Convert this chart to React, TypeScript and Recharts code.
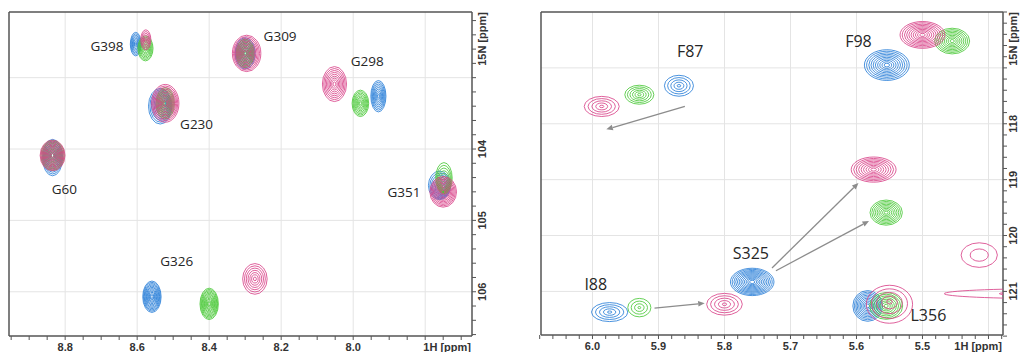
import React from 'react';
import { ScatterChart, Scatter, XAxis, YAxis, ReferenceLine } from 'recharts';

// ---------- data (ppm) ----------
type Peak = { x: number; y: number; w: number; h: number; n: number; ox?: number; oy?: number };
type Lbl = { x: number; y: number; label: string };
type Seg = { x1: number; y1: number; x2: number; y2: number };

// Left panel: glycine region
const leftBlue: Peak[] = [
  { x: 8.604, y: 102.53, w: 0.030, h: 0.33, n: 8 },
  { x: 8.300, y: 102.66, w: 0.056, h: 0.44, n: 11 },
  { x: 8.524, y: 103.36, w: 0.065, h: 0.50, n: 11, ox: 0.012, oy: 0.04 },
  { x: 7.930, y: 103.26, w: 0.042, h: 0.44, n: 9 },
  { x: 8.835, y: 104.09, w: 0.056, h: 0.51, n: 11, oy: 0.03 },
  { x: 7.752, y: 104.59, w: 0.062, h: 0.40, n: 10, ox: 0.008, oy: -0.08 },
  { x: 8.559, y: 106.07, w: 0.051, h: 0.44, n: 12 },
];
const leftGreen: Peak[] = [
  { x: 8.577, y: 102.59, w: 0.042, h: 0.35, n: 9 },
  { x: 8.300, y: 102.66, w: 0.050, h: 0.40, n: 10 },
  { x: 8.522, y: 103.36, w: 0.051, h: 0.44, n: 10 },
  { x: 7.980, y: 103.36, w: 0.046, h: 0.37, n: 9 },
  { x: 8.835, y: 104.09, w: 0.065, h: 0.42, n: 10 },
  { x: 7.748, y: 104.58, w: 0.046, h: 0.44, n: 10, oy: -0.17 },
  { x: 8.400, y: 106.17, w: 0.051, h: 0.44, n: 12 },
];
const leftPink: Peak[] = [
  { x: 8.576, y: 102.47, w: 0.028, h: 0.28, n: 6 },
  { x: 8.300, y: 102.66, w: 0.079, h: 0.51, n: 12, ox: -0.004 },
  { x: 8.522, y: 103.36, w: 0.076, h: 0.53, n: 12 },
  { x: 8.052, y: 103.09, w: 0.067, h: 0.49, n: 9 },
  { x: 8.835, y: 104.09, w: 0.069, h: 0.43, n: 12 },
  { x: 7.750, y: 104.60, w: 0.074, h: 0.43, n: 11 },
  { x: 8.273, y: 105.82, w: 0.068, h: 0.43, n: 7 },
];
const leftLabels: Lbl[] = [
  { x: 8.684, y: 102.55, label: 'G398' },
  { x: 8.203, y: 102.41, label: 'G309' },
  { x: 7.961, y: 102.76, label: 'G298' },
  { x: 8.435, y: 103.65, label: 'G230' },
  { x: 8.802, y: 104.56, label: 'G60' },
  { x: 7.859, y: 104.60, label: 'G351' },
  { x: 8.490, y: 105.57, label: 'G326' },
];

// Right panel
const rightBlue: Peak[] = [
  { x: 5.869, y: 117.32, w: 0.044, h: 0.375, n: 5 },
  { x: 5.554, y: 116.95, w: 0.068, h: 0.55, n: 10 },
  { x: 5.758, y: 120.83, w: 0.066, h: 0.49, n: 12 },
  { x: 5.974, y: 121.37, w: 0.055, h: 0.34, n: 5 },
  { x: 5.583, y: 121.26, w: 0.045, h: 0.55, n: 10 },
];
const rightGreen: Peak[] = [
  { x: 5.929, y: 117.48, w: 0.044, h: 0.34, n: 6 },
  { x: 5.455, y: 116.52, w: 0.053, h: 0.46, n: 9 },
  { x: 5.555, y: 119.59, w: 0.049, h: 0.45, n: 9 },
  { x: 5.929, y: 121.29, w: 0.035, h: 0.33, n: 4 },
  { x: 5.555, y: 121.26, w: 0.050, h: 0.48, n: 8 },
];
const rightPink: Peak[] = [
  { x: 5.986, y: 117.69, w: 0.053, h: 0.36, n: 5 },
  { x: 5.500, y: 116.41, w: 0.068, h: 0.48, n: 10 },
  { x: 5.574, y: 118.82, w: 0.068, h: 0.45, n: 9 },
  { x: 5.800, y: 121.23, w: 0.054, h: 0.39, n: 5 },
  { x: 5.550, y: 121.18, w: 0.070, h: 0.68, n: 5, oy: 0.05 },
  { x: 5.414, y: 120.35, w: 0.055, h: 0.44, n: 2 },
  { x: 5.300, y: 121.04, w: 0.334, h: 0.18, n: 2 },
];
const rightLabels: Lbl[] = [
  { x: 5.852, y: 116.69, label: 'F87' },
  { x: 5.597, y: 116.52, label: 'F98' },
  { x: 5.760, y: 120.31, label: 'S325' },
  { x: 5.995, y: 120.87, label: 'I88' },
  { x: 5.491, y: 121.42, label: 'L356' },
];
const rightArrows: Seg[] = [
  { x1: 5.860, y1: 117.69, x2: 5.979, y2: 118.10 },
  { x1: 5.906, y1: 121.30, x2: 5.830, y2: 121.21 },
  { x1: 5.728, y1: 120.58, x2: 5.597, y2: 119.06 },
  { x1: 5.722, y1: 120.63, x2: 5.581, y2: 119.74 },
];

// axes
const leftXDomain: [number, number] = [7.67, 8.956];
const leftYDomain: [number, number] = [102.08, 106.62];
const leftXMajor = [8.8, 8.6, 8.4, 8.2, 8.0];
const leftXGrid = [8.8, 8.6, 8.4, 8.2, 8.0, 7.8];
const leftYMajor = [104, 105, 106];
const leftYGrid = [103, 104, 105, 106];

const rightXDomain: [number, number] = [5.378, 6.078];
const rightYDomain: [number, number] = [116.0, 121.78];
const rightXMajor = [6.0, 5.9, 5.8, 5.7, 5.6, 5.5];
const rightXGrid = [6.0, 5.9, 5.8, 5.7, 5.6, 5.5, 5.4];
const rightYMajor = [118, 119, 120, 121];
const rightYGrid = [117, 118, 119, 120, 121];

// ---------- style ----------
const BLUE = '#2b7fd8';
const GREEN = '#4cc93a';
const PINK = '#d9448a';
const AXIS = '#555';
const TXT = '#333';
const LBLTXT = '#262626';
const GRID = '#e4e4e4';
const TICKFONT = 'Liberation Sans, Arial, sans-serif';
const LBLFONT = 'Open Sans, sans-serif';
const H = 352;

const steps = (a: number, b: number, s: number) => {
  const out: number[] = [];
  const n = Math.round((b - a) / s);
  for (let i = 0; i <= n; i++) out.push(Math.round((a + i * s) * 1000) / 1000);
  return out;
};

const near = (arr: number[], v: number) => arr.some((a) => Math.abs(a - v) < 1e-6);

const contour = (color: string, kx: number, ky: number) => (p: any) => {
  const d: Peak = p.payload;
  const n = d.n;
  const minS = n <= 3 ? 0.5 : 0.12;
  const rings = [];
  for (let i = 0; i < n; i++) {
    const s = n === 1 ? 1 : 1 - (i * (1 - minS)) / (n - 1);
    const cx = p.cx - (d.ox ?? 0) * kx * s;
    const cy = p.cy + (d.oy ?? 0) * ky * s;
    rings.push(
      <ellipse key={i} cx={cx} cy={cy} rx={(d.w / 2) * kx * s} ry={(d.h / 2) * ky * s}
        fill="none" stroke={color} strokeWidth={0.85} />
    );
  }
  return <g>{rings}</g>;
};

const textShape = (size: number) => (p: any) => (
  <text x={p.cx} y={p.cy} textAnchor="middle" dominantBaseline="central"
    fontFamily={LBLFONT} fontSize={size} fill={LBLTXT}>{p.payload.label}</text>
);

const Arrow = (p: any) => {
  const { x1, y1, x2, y2 } = p;
  const a = Math.atan2(y2 - y1, x2 - x1);
  const L = 6.5, W = 2.8;
  const bx = x2 - L * Math.cos(a);
  const by = y2 - L * Math.sin(a);
  const pts = `${x2},${y2} ${bx - W * Math.sin(a)},${by + W * Math.cos(a)} ${bx + W * Math.sin(a)},${by - W * Math.cos(a)}`;
  return (
    <g>
      <line x1={x1} y1={y1} x2={bx} y2={by} stroke="#8c8c8c" strokeWidth={1.3} />
      <polygon points={pts} fill="#8c8c8c" />
    </g>
  );
};

const xTick = (major: number[]) => (p: any) => {
  const v = p.payload.value;
  if (!near(major, v)) return <g />;
  return (
    <text x={p.x} y={p.y} dy={8.5} textAnchor="middle" fontFamily={TICKFONT}
      fontWeight="bold" fontSize={11} fill={TXT}>{v.toFixed(1)}</text>
  );
};

const yTick = (major: number[]) => (p: any) => {
  const v = p.payload.value;
  if (!near(major, v)) return <g />;
  const x = p.x + 4;
  return (
    <text x={x} y={p.y} transform={`rotate(-90, ${x}, ${p.y})`} textAnchor="middle"
      dominantBaseline="central" fontFamily={TICKFONT} fontWeight="bold" fontSize={11} fill={TXT}>{v}</text>
  );
};

const xTitle = (p: any) => {
  const vb = p.viewBox;
  return (
    <text x={vb.x + vb.width - 1} y={vb.y + 14.7} textAnchor="end" fontFamily={TICKFONT}
      fontWeight="bold" fontSize={11} fill={TXT}>1H [ppm]</text>
  );
};

const yTitle = (p: any) => {
  const vb = p.viewBox;
  const x = vb.x + 10;
  const y = vb.y;
  return (
    <text x={x} y={y} transform={`rotate(-90, ${x}, ${y})`} textAnchor="end" dominantBaseline="central"
      fontFamily={TICKFONT} fontWeight="bold" fontSize={11} fill={TXT}>15N [ppm]</text>
  );
};

type PanelProps = {
  width: number;
  margin: { top: number; right: number; left: number; bottom: number };
  yAxisWidth: number;
  xAxisHeight: number;
  xDomain: [number, number];
  yDomain: [number, number];
  xMajor: number[];
  xGrid: number[];
  xMinorStep: number;
  yMajor: number[];
  yGrid: number[];
  blue: Peak[];
  green: Peak[];
  pink: Peak[];
  labels: Lbl[];
  labelSize: number;
  arrows: Seg[];
};

const Panel = (pp: PanelProps) => {
  const plotW = pp.width - pp.margin.left - pp.margin.right - pp.yAxisWidth;
  const plotH = H - pp.margin.top - pp.margin.bottom - pp.xAxisHeight;
  const kx = plotW / (pp.xDomain[1] - pp.xDomain[0]);
  const ky = plotH / (pp.yDomain[1] - pp.yDomain[0]);
  const xTicks = steps(Math.ceil(pp.xDomain[0] / pp.xMinorStep) * pp.xMinorStep, pp.xDomain[1], pp.xMinorStep);
  const yTicks = steps(Math.ceil(pp.yDomain[0] / 0.2) * 0.2, pp.yDomain[1], 0.2);
  return (
    <ScatterChart width={pp.width} height={H} margin={pp.margin}>
      <XAxis type="number" dataKey="x" domain={pp.xDomain} reversed allowDataOverflow
        ticks={xTicks} interval={0} height={pp.xAxisHeight} tickSize={4} tickMargin={2}
        axisLine={{ stroke: AXIS, strokeWidth: 1.5 }} tickLine={{ stroke: AXIS }}
        tick={xTick(pp.xMajor)} label={xTitle} />
      <YAxis type="number" dataKey="y" domain={pp.yDomain} reversed allowDataOverflow orientation="right"
        ticks={yTicks} interval={0} width={pp.yAxisWidth} tickSize={4} tickMargin={2}
        axisLine={{ stroke: AXIS, strokeWidth: 1.5 }} tickLine={{ stroke: AXIS }}
        tick={yTick(pp.yMajor)} label={yTitle} />
      {pp.xGrid.map((v) => (
        <ReferenceLine key={`gx${v}`} x={v} stroke={GRID} strokeWidth={1} />
      ))}
      {pp.yGrid.map((v) => (
        <ReferenceLine key={`gy${v}`} y={v} stroke={GRID} strokeWidth={1} />
      ))}
      <ReferenceLine y={pp.yDomain[0]} stroke={AXIS} strokeWidth={1.5} ifOverflow="visible" />
      <ReferenceLine x={pp.xDomain[1]} stroke={AXIS} strokeWidth={1.5} ifOverflow="visible" />
      <Scatter data={pp.blue} shape={contour(BLUE, kx, ky)} isAnimationActive={false} />
      <Scatter data={pp.green} shape={contour(GREEN, kx, ky)} isAnimationActive={false} />
      <Scatter data={pp.pink} shape={contour(PINK, kx, ky)} isAnimationActive={false} />
      {pp.arrows.map((a, i) => (
        <ReferenceLine key={`ar${i}`} segment={[{ x: a.x1, y: a.y1 }, { x: a.x2, y: a.y2 }]}
          shape={Arrow} ifOverflow="visible" />
      ))}
      <Scatter data={pp.labels} shape={textShape(pp.labelSize)} isAnimationActive={false} />
    </ScatterChart>
  );
};

export default function App() {
  return (
    <div style={{ position: 'absolute', left: 0, top: 0, width: 1020, height: H, background: '#fff', overflow: 'hidden' }}>
      <div style={{ position: 'absolute', left: 0, top: 0 }}>
        <Panel width={510} margin={{ top: 12, right: 10, left: 9, bottom: 0 }} yAxisWidth={28} xAxisHeight={16}
          xDomain={leftXDomain} yDomain={leftYDomain} xMajor={leftXMajor} xGrid={leftXGrid} xMinorStep={0.05}
          yMajor={leftYMajor} yGrid={leftYGrid} blue={leftBlue} green={leftGreen} pink={leftPink}
          labels={leftLabels} labelSize={13.5} arrows={[]} />
      </div>
      <div style={{ position: 'absolute', left: 510, top: 0 }}>
        <Panel width={510} margin={{ top: 12, right: 0, left: 31, bottom: 0 }} yAxisWidth={17} xAxisHeight={17}
          xDomain={rightXDomain} yDomain={rightYDomain} xMajor={rightXMajor} xGrid={rightXGrid} xMinorStep={0.02}
          yMajor={rightYMajor} yGrid={rightYGrid} blue={rightBlue} green={rightGreen} pink={rightPink}
          labels={rightLabels} labelSize={16} arrows={rightArrows} />
      </div>
    </div>
  );
}
